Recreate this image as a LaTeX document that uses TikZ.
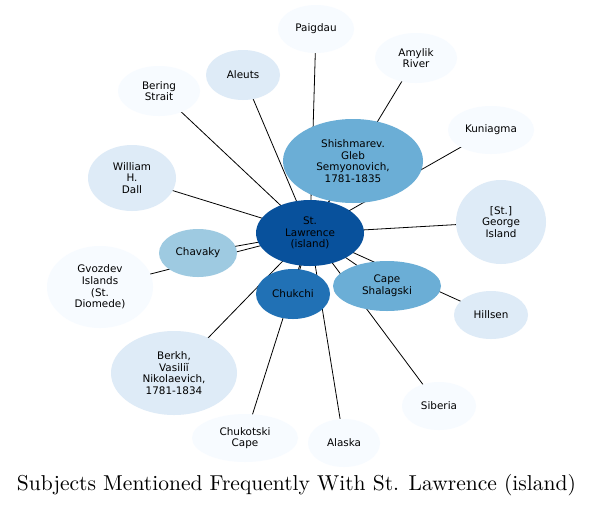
\documentclass[tikz,border=0pt]{standalone}
\usepackage{fontspec}
\usepackage{graphicx}
\newfontfamily\nodefont{DejaVu Sans}
\usetikzlibrary{shapes.geometric}
\definecolor{bA}{HTML}{08519C}
\definecolor{bB}{HTML}{2171B5}
\definecolor{bC}{HTML}{6BAED6}
\definecolor{bD}{HTML}{9ECAE1}
\definecolor{bE}{HTML}{DEEBF7}
\definecolor{bF}{HTML}{F7FBFF}
\tikzset{
  subj/.style={ellipse, inner sep=0pt, align=center, draw=none,
    font=\nodefont\fontsize{10.4}{11.7}\selectfont},
  conn/.style={draw=black, line width=0.8pt}
}
\newcommand{\subjnode}[7]{% name, x, y, rx, ry, color, text
  \node[subj, fill=#6, minimum width=#4*2pt, minimum height=#5*2pt] (#1) at (#2,#3) {#7};}
\begin{document}
\begin{tikzpicture}[x=1pt,y=-1pt]
\useasboundingbox[fill=white] (0,0) rectangle (593,504);
% coordinates for edges (node centres)
\foreach \n/\x/\y in {c/310/233, shi/353/161, pai/316/29, amy/416/58, kun/491/130,
  geo/501/222, hil/491/315, sib/439/406, ala/344/443, chc/245/438, ber/174/373,
  gvo/100/287, cha/198/253, chu/293/294, sha/387/286, dal/132/178, bst/159/91, ale/243/75}
  {\coordinate (p\n) at (\x,\y);}
\foreach \t in {shi,pai,amy,kun,geo,hil,sib,ala,chc,ber,gvo,cha,chu,sha,dal,bst,ale}
  {\draw[conn] (pc) -- (p\t);}
\subjnode{shi}{353}{161}{70}{42}{bC}{Shishmarev.\\Gleb\\Semyonovich,\\1781-1835}
\subjnode{pai}{316}{29}{38}{24}{bF}{Paigdau}
\subjnode{amy}{416}{58}{41}{25}{bF}{Amylik\\River}
\subjnode{kun}{491}{130}{43}{24}{bF}{Kuniagma}
\subjnode{geo}{501}{222}{45}{42}{bE}{[St.]\\George\\Island}
\subjnode{hil}{491}{315}{37}{24}{bE}{Hillsen}
\subjnode{sib}{439}{406}{37}{24}{bF}{Siberia}
\subjnode{ala}{344}{443}{36}{24}{bF}{Alaska}
\subjnode{chc}{245}{438}{53}{24}{bF}{Chukotski\\Cape}
\subjnode{ber}{174}{373}{63}{42}{bE}{Berkh,\\Vasiliĭ\\Nikolaevich,\\1781-1834}
\subjnode{gvo}{100}{287}{53}{41}{bF}{Gvozdev\\Islands\\(St.\\Diomede)}
\subjnode{cha}{198}{253}{39}{24}{bD}{Chavaky}
\subjnode{chu}{293}{294}{37}{25}{bB}{Chukchi}
\subjnode{sha}{387}{286}{54}{25}{bC}{Cape\\Shalagski}
\subjnode{dal}{132}{178}{44}{33}{bE}{William\\H.\\Dall}
\subjnode{bst}{159}{91}{41}{25}{bF}{Bering\\Strait}
\subjnode{ale}{243}{75}{37}{25}{bE}{Aleuts}
\subjnode{c}{310}{233}{54}{33}{bA}{St.\\Lawrence\\(island)}
\node[inner sep=0pt, anchor=base] (title) at (296.5,490)
  {\resizebox{559pt}{!}{\fontsize{10}{12}\selectfont Subjects Mentioned Frequently With St. Lawrence (island)}};
\end{tikzpicture}
\end{document}
